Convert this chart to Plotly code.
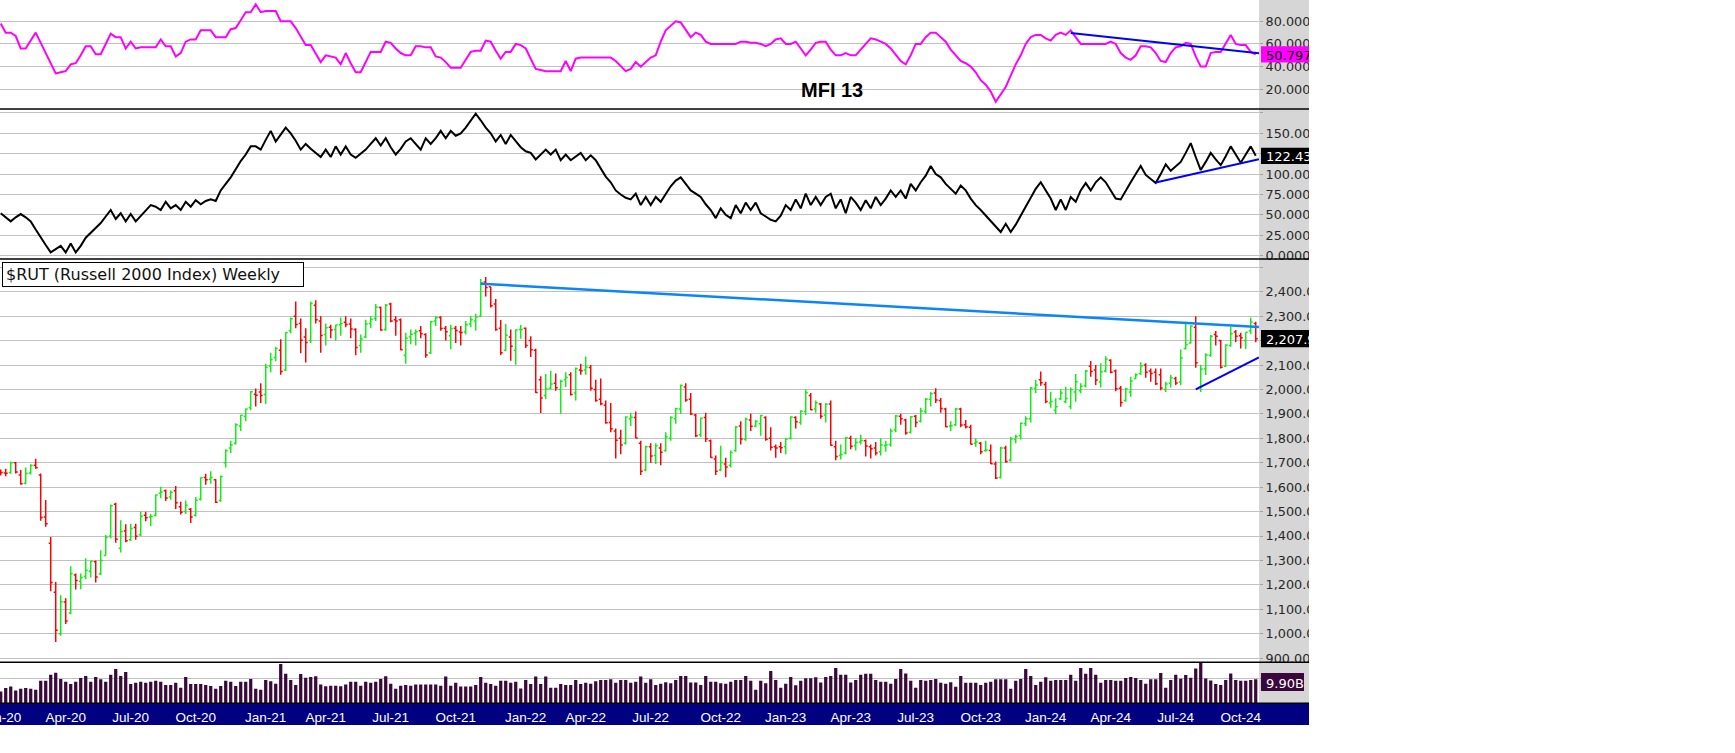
import pandas as pd
import plotly.graph_objects as go

# ---------------- data ----------------
dates = pd.date_range("2020-01-03", periods=252, freq="W-FRI")

opens = [1668,1658,1660,1700,1650,1616,1658,1690,1650,1478,1370,1170,1000,1130,1085,1240,1215,1235,1256,1295,
         1245,1320,1400,1530,1350,1420,1385,1435,1405,1485,1478,1485,1575,1585,1560,1585,1520,1500,1510,1485,
         1550,1640,1632,1630,1545,1700,1760,1780,1850,1890,1925,1980,1990,1979,2095,2130,2160,2080,2240,2300,
         2270,2215,2200,2345,2280,2225,2255,2245,2265,2275,2268,2245,2180,2215,2270,2290,2335,2245,2350,2285,
         2285,2140,2215,2230,2240,2225,2150,2280,2295,2250,2220,2250,2235,2235,2268,2280,2300,2440,2420,2350,
         2250,2160,2215,2160,2245,2250,2200,2160,2040,1975,2005,2025,2000,2040,2060,1985,2080,2080,2090,2000,
         1960,1935,1865,1830,1800,1780,1880,1885,1780,1670,1765,1730,1760,1750,1800,1880,1920,2010,1960,1895,
         1815,1885,1790,1715,1670,1695,1690,1750,1850,1795,1875,1850,1860,1885,1800,1765,1765,1765,1800,1885,
         1865,1910,1975,1920,1940,1895,1940,1765,1730,1740,1800,1770,1785,1790,1765,1760,1745,1770,1775,1835,
         1890,1875,1825,1890,1870,1910,1960,1985,1955,1920,1850,1855,1920,1855,1845,1780,1780,1750,1750,1695,
         1640,1760,1710,1795,1810,1860,1880,2005,2040,2020,1945,1915,1962,1950,1930,1990,1995,2015,2095,2080,
         2030,2075,2120,2075,2005,1955,1990,2045,2065,2100,2075,2070,2060,2000,2025,2045,2030,2168,2190,2255,
         2010,2085,2140,2225,2200,2095,2180,2235,2220,2200,2240,2270]
highs = [1672,1675,1705,1703,1670,1680,1694,1716,1656,1547,1396,1212,1157,1145,1276,1247,1247,1309,1299,1300,
         1342,1404,1529,1536,1465,1448,1450,1450,1500,1499,1490,1570,1602,1590,1586,1605,1540,1545,1515,1560,
         1640,1655,1665,1632,1648,1755,1790,1862,1895,1922,1993,2004,2025,2105,2150,2175,2205,2234,2295,2360,
         2290,2250,2360,2365,2300,2270,2265,2265,2295,2300,2290,2250,2225,2285,2300,2350,2340,2350,2355,2300,
         2290,2232,2245,2245,2260,2230,2280,2300,2300,2260,2265,2260,2260,2280,2300,2310,2452,2460,2420,2370,
         2284,2268,2245,2245,2264,2254,2218,2167,2054,2063,2075,2065,2040,2070,2070,2090,2105,2135,2100,2040,
         2045,1955,1945,1840,1835,1890,1905,1910,1790,1770,1780,1780,1780,1825,1890,1925,2020,2025,1985,1900,
         1885,1905,1795,1730,1770,1720,1750,1850,1870,1885,1900,1875,1895,1890,1845,1775,1785,1800,1890,1890,
         1915,2000,1985,1955,1945,1945,1955,1790,1775,1805,1810,1800,1815,1795,1775,1785,1800,1790,1840,1895,
         1900,1880,1890,1895,1925,1965,1990,2005,1965,1925,1870,1925,1925,1875,1855,1800,1785,1790,1775,1705,
         1765,1770,1805,1815,1865,1890,2010,2040,2073,2032,1991,1964,2000,2011,2008,2063,2025,2080,2116,2100,
         2107,2136,2124,2082,2014,2007,2052,2066,2111,2107,2086,2086,2086,2032,2059,2052,2164,2277,2263,2300,
         2100,2148,2223,2239,2202,2185,2257,2243,2232,2234,2294,2277]
lows = [1648,1645,1655,1656,1610,1612,1652,1675,1462,1438,1174,966,992,1040,1080,1181,1182,1223,1230,1210,
        1240,1320,1390,1372,1332,1374,1380,1385,1400,1460,1440,1480,1555,1543,1548,1511,1488,1490,1453,1480,
        1545,1610,1614,1535,1540,1680,1740,1775,1830,1870,1915,1930,1945,1940,2070,2115,2060,2075,2230,2250,
        2148,2110,2190,2270,2150,2180,2210,2200,2220,2255,2210,2140,2150,2210,2250,2280,2240,2240,2275,2220,
        2160,2105,2185,2180,2210,2130,2145,2260,2240,2200,2165,2190,2180,2225,2255,2240,2298,2380,2335,2240,
        2141,2158,2117,2101,2208,2170,2133,1985,1904,1960,2000,1995,1900,2010,1975,1955,2060,2060,1995,1950,
        1935,1860,1825,1717,1735,1775,1850,1800,1650,1665,1700,1695,1690,1745,1790,1860,1900,1950,1895,1805,
        1805,1785,1720,1650,1665,1641,1680,1745,1775,1790,1830,1845,1810,1790,1750,1720,1740,1735,1795,1840,
        1855,1895,1915,1905,1880,1865,1770,1710,1713,1735,1755,1750,1775,1725,1717,1730,1730,1745,1765,1825,
        1855,1815,1820,1845,1865,1900,1930,1945,1905,1845,1830,1850,1845,1840,1775,1765,1735,1745,1695,1633,
        1635,1700,1705,1780,1795,1850,1865,1985,2015,1943,1925,1898,1957,1943,1920,1950,1984,2008,2052,2018,
        2008,2069,2066,1993,1929,1950,1970,2043,2059,2048,2031,2018,1997,1990,2008,2018,2018,2164,2188,2089,
        1990,2059,2134,2180,2086,2093,2175,2193,2168,2166,2227,2193]
closes = [1660,1657,1700,1662,1614,1656,1689,1679,1476,1450,1210,1014,1131,1052,1246,1218,1230,1260,1297,1232,
          1300,1394,1524,1387,1418,1381,1431,1399,1481,1475,1480,1568,1580,1556,1579,1536,1497,1526,1478,1546,
          1638,1630,1640,1538,1644,1749,1773,1855,1894,1920,1991,1976,1975,2091,2123,2168,2073,2233,2289,2266,
          2201,2192,2352,2285,2221,2253,2243,2264,2270,2266,2247,2172,2207,2268,2286,2338,2243,2345,2280,2280,
          2163,2210,2226,2236,2228,2141,2277,2293,2249,2236,2248,2241,2233,2265,2285,2297,2437,2417,2343,2245,
          2150,2222,2177,2243,2245,2180,2163,1987,1965,2002,2022,2007,2034,2049,1979,2086,2077,2092,2005,1955,
          1941,1864,1839,1792,1773,1887,1886,1801,1665,1765,1728,1769,1743,1806,1885,1921,2016,1957,1899,1810,
          1882,1798,1721,1665,1701,1682,1742,1846,1797,1878,1849,1869,1893,1796,1763,1760,1761,1797,1887,1868,
          1911,1986,1917,1946,1890,1939,1772,1725,1734,1802,1767,1783,1791,1768,1757,1740,1773,1773,1830,1891,
          1880,1822,1888,1865,1912,1960,1982,1957,1922,1847,1851,1920,1854,1847,1776,1785,1745,1752,1696,1637,
          1760,1705,1797,1807,1862,1880,2006,2018,2027,1951,1951,1929,1985,1963,2000,2032,2013,2076,2073,2039,
          2072,2125,2070,2003,1947,2002,2035,2060,2096,2070,2065,2023,2006,2022,2048,2026,2129,2184,2260,2109,
          2084,2141,2218,2218,2091,2182,2228,2218,2212,2234,2276,2208]

volume_b = [4.8,6.2,6.9,5.2,5.9,6.2,5.9,5.5,9.2,9.2,11.7,12.6,10.0,8.8,7.9,8.8,10.4,11.2,8.8,10.8,
            9.9,8.8,11.7,14.1,11.2,12.9,7.9,8.4,8.8,8.4,8.8,9.2,8.8,7.5,7.5,8.4,6.3,10.8,7.9,7.9,
            7.9,7.5,7.1,5.9,7.1,9.2,8.8,7.1,8.8,8.8,10.0,5.9,5.5,
            9.5,9.0,8.0,16.2,12.1,9.6,7.5,12.0,10.5,10.8,11.1,7.7,7.0,7.2,7.2,7.0,7.7,8.8,8.8,7.2,
            8.8,8.4,8.8,10.0,11.1,8.0,5.9,7.2,7.5,7.2,7.7,7.7,7.7,7.7,7.7,7.2,11.0,7.2,8.4,6.9,
            6.9,6.9,7.5,10.8,8.4,7.9,7.2,9.2,9.2,8.4,8.8,6.0,9.6,7.9,11.0,7.9,11.0,6.3,6.3,7.9,
            7.5,7.5,9.5,7.9,8.4,8.0,9.0,9.6,9.6,9.9,8.4,9.6,9.6,8.4,8.8,11.0,8.4,
            9.9,7.5,8.0,8.6,8.2,9.6,11.2,11.2,8.5,8.5,7.5,11.2,8.8,8.8,8.2,8.0,8.8,9.6,9.6,11.2,
            9.2,5.5,9.2,8.2,13.3,9.6,6.3,8.0,10.8,7.4,9.2,10.3,10.3,10.7,8.5,10.8,11.2,14.5,11.7,11.7,
            8.5,9.6,11.7,12.1,12.1,9.6,8.8,8.8,8.0,10.0,14.1,12.3,9.2,6.3,9.6,9.2,9.6,10.0,8.4,8.0,
            8.6,6.7,11.2,8.4,8.4,8.4,7.5,8.4,8.8,9.9,9.9,9.9,5.9,9.2,10.0,14.1,11.2,7.5,8.8,10.7,
            9.2,9.6,9.6,9.6,11.7,9.2,14.5,12.1,14.5,11.7,8.4,9.6,9.6,9.2,9.2,10.4,10.8,10.4,9.6,8.0,
            9.9,9.9,12.5,6.3,9.6,11.7,
            10.1,11.6,10.5,14.3,16.6,10.2,9.3,7.9,7.5,9.5,12.2,9.5,9.2,9.2,9.5,9.9]

mfi = [78,70,70,67,56,56,63,70,61,52,43,34,35,36,42,43,50,58,58,51,51,
       60,69,66,66,56,62,56,57,57,57,57,64,58,58,49,52,62,64,64,72,
       72,72,66,66,66,73,74,81,88,88,95,88,89,89,89,80,80,80,74,66,
       59,59,51,44,50,49,48,42,52,43,35,35,44,53,53,53,62,61,56,52,
       50,50,58,58,57,57,49,48,44,39,39,39,46,53,54,54,63,62,54,47,
       53,53,60,59,56,47,38,37,36,36,36,36,45,36,47,48,48,48,48,48,
       48,48,45,40,36,38,44,40,44,48,50,62,72,76,80,79,72,66,70,68,
       62,60,60,60,60,60,60,62,62,61,61,60,58,60,64,65,60,60,62,56,
       50,55,61,62,62,55,50,50,52,50,50,55,60,65,64,62,60,56,50,45,
       42,50,60,60,66,70,70,66,62,55,50,45,43,40,35,28,24,18,9,15,
       22,32,42,50,60,66,68,68,65,63,68,70,68,72,66,60,60,60,60,60,
       60,62,60,52,48,46,50,58,58,57,52,45,44,52,57,58,61,60,49,40,
       40,52,53,53,60,68,60,59,59,53,50.7977]

indicator = [52,47,42,47,51,47,42,32,22,13,4,8,12,4,15,4,12,22,28,33,40,
             48,56,45,52,42,51,42,49,55,62,60,56,66,58,62,56,66,60,68,63,
             67,69,67,80,88,96,106,116,124,134,134,130,142,153,140,148,157,150,141,130,
             137,131,126,121,130,121,134,124,134,124,120,125,130,137,144,135,144,133,124,131,
             140,144,137,130,144,137,144,153,144,153,147,150,157,165,174,166,157,150,140,148,
             137,148,140,133,128,126,118,124,130,124,130,117,124,117,122,126,117,123,117,107,
             97,90,80,75,71,69,76,62,72,62,72,66,75,85,92,96,88,80,76,72,
             63,56,46,58,50,46,62,52,65,56,65,52,48,44,42,49,62,56,69,58,
             76,62,72,62,72,76,58,69,52,72,65,56,68,58,72,62,70,80,72,80,
             70,88,80,90,98,110,100,96,88,82,76,86,80,70,62,56,49,42,35,29,
             39,29,38,49,60,72,82,90,80,70,56,69,56,72,66,80,89,80,90,96,
             90,80,70,69,80,90,100,110,99,94,89,100,112,104,110,115,126,138,121,105,
             115,126,118,111,122,134,124,114,124,134,122.437]

# trend lines (endpoints)
res_x = ["2021-11-05", "2024-10-29 12:00"]
res_y = [2433, 2256]
sup_x = ["2024-08-02", "2024-10-29 12:00"]
sup_y = [2000, 2131]
mfi_tl_x = ["2024-02-09", "2024-10-29 12:00"]
mfi_tl_y = [69.7, 51.7]
ind_tl_x = ["2024-06-07", "2024-10-29 12:00"]
ind_tl_y = [89.6, 118.2]

# axis ticks
x_tick_dates = ["2020-01-03", "2020-04-03", "2020-07-03", "2020-10-02",
                "2021-01-08", "2021-04-02", "2021-07-02", "2021-10-01",
                "2022-01-07", "2022-04-01", "2022-07-01", "2022-10-07",
                "2023-01-06", "2023-04-07", "2023-07-07", "2023-10-06",
                "2024-01-05", "2024-04-05", "2024-07-05", "2024-10-04"]
x_tick_labels = ["Jan-20", "Apr-20", "Jul-20", "Oct-20", "Jan-21", "Apr-21", "Jul-21", "Oct-21",
                 "Jan-22", "Apr-22", "Jul-22", "Oct-22", "Jan-23", "Apr-23", "Jul-23", "Oct-23",
                 "Jan-24", "Apr-24", "Jul-24", "Oct-24"]
mfi_ticks = [20, 40, 60, 80]
mfi_tick_labels = ["20.00000", "40.00000", "60.00000", "80.00000"]
ind_ticks = [0, 25, 50, 75, 100, 125, 150, 175]
ind_tick_labels = ["0.000000", "25.00000", "50.00000", "75.00000", "100.0000", "", "150.0000", ""]
px_ticks = [900, 1000, 1100, 1200, 1300, 1400, 1500, 1600, 1700, 1800, 1900, 2000, 2100, 2200, 2300, 2400, 2500]
px_tick_labels = ["900.0000", "1,000.00", "1,100.00", "1,200.00", "1,300.00", "1,400.00", "1,500.00",
                  "1,600.00", "1,700.00", "1,800.00", "1,900.00", "2,000.00", "2,100.00", "", "2,300.00",
                  "2,400.00", ""]
vol_ticks = [10]

last_labels = ["50.7977", "122.437", "2,207.99", "9.90B"]

# ---------------- layout geometry ----------------
FIG_W, FIG_H = 1735, 753
PW, PH = 1259, 703          # plot area (margins l=0, t=0)


def fx(xpx):
    return xpx / PW


def fy(ypx):
    return 1 - ypx / PH


GRID = "#c0c0c0"
AXFONT = dict(family="DejaVu Sans", size=12.8, color="#262626")

fig = go.Figure()

fig.add_trace(go.Scatter(x=dates, y=mfi, mode="lines", line=dict(color="#ff00ff", width=2),
                         xaxis="x", yaxis="y", hoverinfo="skip"))
fig.add_trace(go.Scatter(x=mfi_tl_x, y=mfi_tl_y, mode="lines", line=dict(color="#0000ff", width=2),
                         xaxis="x", yaxis="y", hoverinfo="skip"))
fig.add_trace(go.Scatter(x=dates, y=indicator, mode="lines", line=dict(color="#000000", width=2),
                         xaxis="x", yaxis="y2", hoverinfo="skip"))
fig.add_trace(go.Scatter(x=ind_tl_x, y=ind_tl_y, mode="lines", line=dict(color="#0000ff", width=2),
                         xaxis="x", yaxis="y2", hoverinfo="skip"))
fig.add_trace(go.Ohlc(x=dates, open=opens, high=highs, low=lows, close=closes,
                      increasing=dict(line=dict(color="#11ee11", width=1.5)),
                      decreasing=dict(line=dict(color="#ff0000", width=1.5)),
                      tickwidth=0.4, xaxis="x", yaxis="y3", hoverinfo="skip"))
fig.add_trace(go.Scatter(x=res_x, y=res_y, mode="lines", line=dict(color="#0a84ff", width=2.5),
                         xaxis="x", yaxis="y3", hoverinfo="skip"))
fig.add_trace(go.Scatter(x=sup_x, y=sup_y, mode="lines", line=dict(color="#0000ff", width=2),
                         xaxis="x", yaxis="y3", hoverinfo="skip"))
fig.add_trace(go.Bar(x=dates, y=volume_b, marker=dict(color="#3a083a", line=dict(width=0)),
                     xaxis="x", yaxis="y4", hoverinfo="skip"))

yax_common = dict(anchor="x", side="right", showgrid=True, gridcolor=GRID, gridwidth=1,
                  zeroline=False, showline=False, ticks="outside", ticklen=3, tickcolor="#a0a0a0",
                  tickfont=AXFONT, fixedrange=True, automargin=False)

fig.update_layout(
    width=FIG_W, height=FIG_H, autosize=False,
    margin=dict(l=0, r=FIG_W - PW, t=0, b=FIG_H - PH, pad=0, autoexpand=False),
    paper_bgcolor="white", plot_bgcolor="white",
    showlegend=False, bargap=0.35,
    xaxis=dict(type="date", range=["2020-01-02", "2024-10-29 14:00"], domain=[0, 1], anchor="y4",
               showgrid=False, zeroline=False, showline=False, ticks="", automargin=False,
               tickvals=x_tick_dates, ticktext=x_tick_labels, ticklabelstandoff=4,
               tickfont=dict(family="Liberation Sans, Arial", size=13.5, color="#ffffff"),
               rangeslider=dict(visible=False), ticklabeloverflow="allow", fixedrange=True),
    yaxis=dict(domain=[fy(109), 1], range=[2.6, 98.8], tickvals=mfi_ticks, ticktext=mfi_tick_labels,
               **yax_common),
    yaxis2=dict(domain=[fy(259), fy(110)], range=[-4.1, 178.6], tickvals=ind_ticks,
                ticktext=ind_tick_labels, **yax_common),
    yaxis3=dict(domain=[fy(662.3), fy(259)], range=[883, 2534], tickvals=px_ticks,
                ticktext=px_tick_labels, **yax_common),
    yaxis4=dict(domain=[0, fy(662.3)], range=[0, 16.9], tickvals=vol_ticks, ticktext=[""],
                **yax_common),
)

RIGHT = fx(1309)
shapes = [
    # grey price-scale column
    dict(type="rect", xref="paper", yref="paper", x0=1, x1=RIGHT, y0=0, y1=1,
         fillcolor="#d6d6d6", line=dict(width=0), layer="below"),
    # navy date band
    dict(type="rect", xref="paper", yref="paper", x0=0, x1=RIGHT, y0=fy(725), y1=fy(703.5),
         fillcolor="#000080", line=dict(width=0), layer="below"),
]
# panel separators
for ypx in (109, 259, 662.3, 703.3):
    shapes.append(dict(type="line", xref="paper", yref="paper", x0=0, x1=RIGHT, y0=fy(ypx), y1=fy(ypx),
                       line=dict(color="black", width=1.6), layer="above"))

# last-value boxes
box_font = dict(family="DejaVu Sans", size=13)
shapes += [
    dict(type="rect", xref="paper", yref="y", x0=fx(1261), x1=fx(1330), y0=mfi[-1] - 7.2, y1=mfi[-1] + 7.2,
         fillcolor="#ff00ff", line=dict(width=0), layer="above",
         label=dict(text=last_labels[0], textposition="middle left", padding=2,
                    font=dict(color="black", **box_font))),
    dict(type="rect", xref="paper", yref="y2", x0=fx(1261), x1=fx(1330), y0=indicator[-1] - 10,
         y1=indicator[-1] + 10, fillcolor="#000000", line=dict(width=0), layer="above",
         label=dict(text=last_labels[1], textposition="middle left", padding=2,
                    font=dict(color="white", **box_font))),
    dict(type="rect", xref="paper", yref="y3", x0=fx(1261), x1=fx(1330), y0=closes[-1] - 35,
         y1=closes[-1] + 35, fillcolor="#000000", line=dict(width=0), layer="above",
         label=dict(text=last_labels[2], textposition="middle left", padding=2,
                    font=dict(color="white", **box_font))),
    dict(type="rect", xref="paper", yref="paper", x0=fx(1261), x1=fx(1304), y0=fy(691), y1=fy(673),
         fillcolor="#3a083a", line=dict(width=0), layer="above",
         label=dict(text=last_labels[3], textposition="middle left", padding=2,
                    font=dict(color="white", **box_font))),
    # blank canvas right of the captured chart (clips the scale text)
    dict(type="rect", xref="paper", yref="paper", x0=RIGHT, x1=fx(FIG_W + 5), y0=fy(FIG_H + 5), y1=1.01,
         fillcolor="white", line=dict(width=0), layer="above"),
]
fig.update_layout(shapes=shapes)

fig.update_layout(annotations=[
    dict(text="$RUT (Russell 2000 Index) Weekly", xref="paper", yref="paper",
         x=fx(2.3), y=fy(261.7), xanchor="left", yanchor="top", showarrow=False,
         font=dict(family="DejaVu Sans", size=16, color="#111111"), bgcolor="white",
         bordercolor="black", borderwidth=1, borderpad=3, width=294, height=17, align="left"),
    dict(text="<b>MFI 13</b>", xref="paper", yref="paper", x=fx(832), y=fy(90),
         xanchor="center", yanchor="middle", showarrow=False,
         font=dict(family="Liberation Sans, Arial", size=20, color="black")),
])

fig.write_html("out.html", config={"displayModeBar": False},
               post_script="document.body.style.margin='0px';document.body.style.padding='0px';")
